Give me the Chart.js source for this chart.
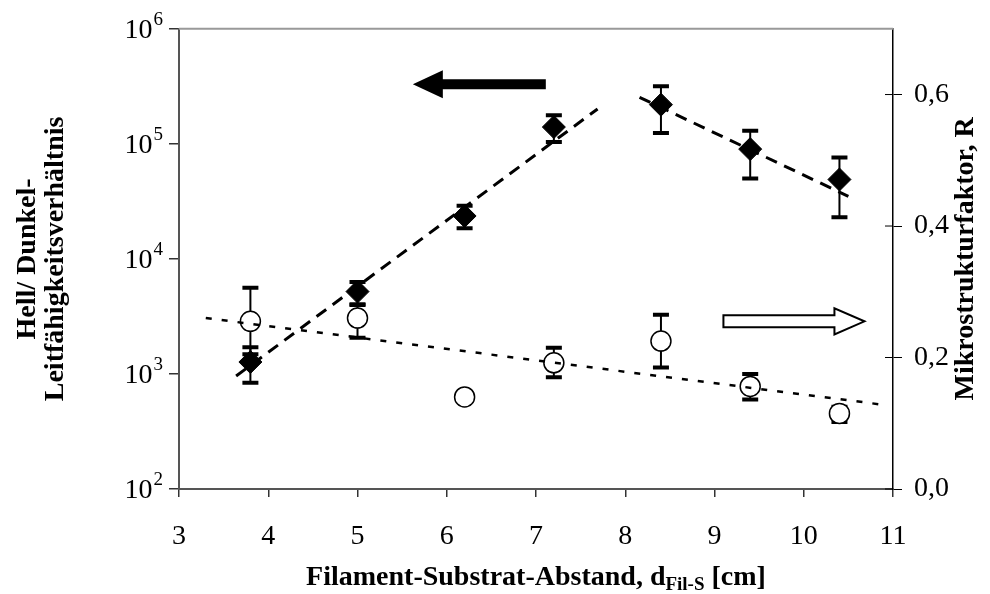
<!DOCTYPE html>
<html lang="de">
<head>
<meta charset="UTF-8">
<title>Hell/Dunkel-Leitfähigkeitsverhältnis</title>
<script src="https://cdn.jsdelivr.net/npm/chart.js"></script>
<style>
  body { margin: 0; background: #fff; }
  #wrap { width: 990px; height: 594px; }
</style>
</head>
<body>
<div id="wrap"><canvas id="chart" width="990" height="594"></canvas></div>
<script>
// Filament-Substrat-Abstand [cm], Hell/Dunkel-Verhältnis (linke Achse)
const distDiamond = [3.8, 5.0, 6.2, 7.2, 8.4, 9.4, 10.4];
const ratio     = [1270, 5200, 23600, 140000, 219000, 90000, 49000];
const ratioLow  = [840, 3970, 18500, 104000, 124000, 50000, 23000];
const ratioHigh = [1710, 6300, 29000, 177000, 316000, 130000, 76000];

// Mikrostrukturfaktor R (rechte Achse)
const distCircle = [3.8, 5.0, 6.2, 7.2, 8.4, 9.4, 10.4];
const rFactor = [0.255, 0.260, 0.140, 0.192, 0.225, 0.156, 0.115];
const rLow    = [0.205, 0.230, null, 0.170, 0.185, 0.136, 0.102];
const rHigh   = [0.306, 0.281, null, 0.215, 0.265, 0.175, 0.125];

// Trendlinien, Endpunkte aus der Abbildung
const fitRiseX = [3.64, 7.69];
const fitRiseY = [960, 201000];
const fitFallX = [8.16, 10.5];
const fitFallY = [254000, 35000];
const fitRX = [3.3, 10.84];
const fitRY = [0.260, 0.129];

// Achsen
const leftExp = [2, 3, 4, 5, 6];
const rightTicks = [0, 0.2, 0.4, 0.6];
const xTicks = [3, 4, 5, 6, 7, 8, 9, 10, 11];

// Pfeile (Datenkoordinaten): [xStart, xSpitze, y]
const arrowLeft = [7.11, 5.62, 330000];
const arrowRight = [9.1, 10.68, 0.255];

const serif = 'Liberation Serif, Times New Roman, serif';

function pts(xs, ys) {
  return xs.map((x, i) => ({ x: x, y: ys[i] }));
}

const errorBars = {
  id: 'errorBars',
  beforeDatasetsDraw(chart) {
    const ctx = chart.ctx;
    const xs = chart.scales.x;
    chart.data.datasets.forEach(ds => {
      if (!ds.errLow) return;
      const ys = chart.scales[ds.yAxisID];
      ds.data.forEach((p, j) => {
        if (ds.errLow[j] == null) return;
        const x = xs.getPixelForValue(p.x);
        const y1 = ys.getPixelForValue(ds.errLow[j]);
        const y2 = ys.getPixelForValue(ds.errHigh[j]);
        ctx.save();
        ctx.strokeStyle = '#000';
        ctx.lineWidth = 2;
        ctx.beginPath();
        ctx.moveTo(x, y1);
        ctx.lineTo(x, y2);
        ctx.stroke();
        ctx.lineWidth = 4;
        ctx.beginPath();
        ctx.moveTo(x - 8, y1); ctx.lineTo(x + 8, y1);
        ctx.moveTo(x - 8, y2); ctx.lineTo(x + 8, y2);
        ctx.stroke();
        ctx.restore();
      });
    });
  }
};

const extras = {
  id: 'extras',
  afterDraw(chart) {
    const ctx = chart.ctx;
    const a = chart.chartArea;
    const xs = chart.scales.x, yl = chart.scales.y, yr = chart.scales.y2;
    ctx.save();

    // obere Rahmenlinie
    ctx.strokeStyle = '#999';
    ctx.lineWidth = 2;
    ctx.beginPath();
    ctx.moveTo(a.left, a.top);
    ctx.lineTo(a.right, a.top);
    ctx.stroke();

    // rechte Ticks nach innen
    ctx.strokeStyle = '#000';
    ctx.lineWidth = 1;
    rightTicks.forEach(v => {
      const y = yr.getPixelForValue(v);
      ctx.beginPath();
      ctx.moveTo(a.right - 8, y);
      ctx.lineTo(a.right, y);
      ctx.stroke();
    });

    // linke Achsenbeschriftung 10^n
    ctx.fillStyle = '#000';
    ctx.textBaseline = 'middle';
    leftExp.forEach(e => {
      const y = yl.getPixelForValue(Math.pow(10, e));
      ctx.font = '19px ' + serif;
      const ew = ctx.measureText(String(e)).width;
      ctx.textAlign = 'left';
      ctx.fillText(String(e), 163 - ew, y - 9);
      ctx.font = '28px ' + serif;
      ctx.textAlign = 'right';
      ctx.fillText('10', 162 - ew, y + 2);
    });

    // rechter Achsentitel
    ctx.save();
    ctx.translate(966, (a.top + a.bottom) / 2);
    ctx.rotate(-Math.PI / 2);
    ctx.textAlign = 'center';
    ctx.font = 'bold 28px ' + serif;
    ctx.fillText('Mikrostrukturfaktor, R', 0, 0);
    ctx.restore();

    // x-Achsentitel mit Index
    const t1 = 'Filament-Substrat-Abstand, d', t2 = 'Fil-S', t3 = ' [cm]';
    ctx.textAlign = 'left';
    ctx.textBaseline = 'alphabetic';
    ctx.font = 'bold 28px ' + serif;
    const w1 = ctx.measureText(t1).width, w3 = ctx.measureText(t3).width;
    ctx.font = 'bold 19px ' + serif;
    const w2 = ctx.measureText(t2).width;
    let x0 = (a.left + a.right) / 2 - (w1 + w2 + w3) / 2;
    const yb = 585;
    ctx.font = 'bold 28px ' + serif;
    ctx.fillText(t1, x0, yb);
    ctx.font = 'bold 19px ' + serif;
    ctx.fillText(t2, x0 + w1, yb + 5);
    ctx.font = 'bold 28px ' + serif;
    ctx.fillText(t3, x0 + w1 + w2, yb);

    // Pfeile
    function arrow(xa, xb, y, fill) {
      const dir = xb > xa ? 1 : -1;
      const head = 30, hh = fill ? 14 : 13, sh = fill ? 5 : 6;
      const xh = xb - dir * head;
      ctx.beginPath();
      ctx.moveTo(xa, y - sh);
      ctx.lineTo(xh, y - sh);
      ctx.lineTo(xh, y - hh);
      ctx.lineTo(xb, y);
      ctx.lineTo(xh, y + hh);
      ctx.lineTo(xh, y + sh);
      ctx.lineTo(xa, y + sh);
      ctx.closePath();
      if (fill) {
        ctx.fillStyle = '#000';
        ctx.fill();
      } else {
        ctx.fillStyle = '#fff';
        ctx.fill();
        ctx.strokeStyle = '#000';
        ctx.lineWidth = 2;
        ctx.stroke();
      }
    }
    arrow(xs.getPixelForValue(arrowLeft[0]), xs.getPixelForValue(arrowLeft[1]),
          yl.getPixelForValue(arrowLeft[2]), true);
    arrow(xs.getPixelForValue(arrowRight[0]), xs.getPixelForValue(arrowRight[1]),
          yr.getPixelForValue(arrowRight[2]), false);

    ctx.restore();
  }
};

new Chart(document.getElementById('chart'), {
  type: 'scatter',
  data: {
    datasets: [
      {
        label: 'Hell/Dunkel',
        data: pts(distDiamond, ratio),
        errLow: ratioLow,
        errHigh: ratioHigh,
        yAxisID: 'y',
        pointStyle: 'rectRot',
        pointRadius: 11.5,
        backgroundColor: '#000',
        borderColor: '#000',
        borderWidth: 1,
        order: 2
      },
      {
        label: 'R',
        data: pts(distCircle, rFactor),
        errLow: rLow,
        errHigh: rHigh,
        yAxisID: 'y2',
        pointStyle: 'circle',
        pointRadius: 10,
        backgroundColor: '#fff',
        borderColor: '#000',
        borderWidth: 1.5,
        order: 3
      },
      {
        data: pts(fitRiseX, fitRiseY),
        yAxisID: 'y',
        showLine: true,
        pointRadius: 0,
        borderColor: '#000',
        borderWidth: 3,
        borderDash: [12, 8],
        order: 1
      },
      {
        data: pts(fitFallX, fitFallY),
        yAxisID: 'y',
        showLine: true,
        pointRadius: 0,
        borderColor: '#000',
        borderWidth: 3,
        borderDash: [12, 8],
        order: 1
      },
      {
        data: pts(fitRX, fitRY),
        yAxisID: 'y2',
        showLine: true,
        pointRadius: 0,
        borderColor: '#000',
        borderWidth: 2.5,
        borderDash: [6, 10],
        order: 1
      }
    ]
  },
  options: {
    responsive: false,
    animation: false,
    events: [],
    layout: { padding: { top: 24 } },
    plugins: {
      legend: { display: false },
      tooltip: { enabled: false }
    },
    scales: {
      x: {
        type: 'linear',
        min: 3,
        max: 11,
        afterBuildTicks: s => { s.ticks = xTicks.map(v => ({ value: v })); },
        grid: { drawOnChartArea: false, tickLength: 8, color: '#333', lineWidth: 1.5 },
        border: { color: '#555', width: 2 },
        ticks: { font: { family: serif, size: 28 }, color: '#000', padding: 23 },
        afterFit: s => { s.height = 105; }
      },
      y: {
        type: 'logarithmic',
        position: 'left',
        min: 100,
        max: 1000000,
        afterBuildTicks: s => { s.ticks = leftExp.map(e => ({ value: Math.pow(10, e) })); },
        ticks: { display: false },
        grid: { drawOnChartArea: false, tickLength: 10, color: '#333', lineWidth: 1.5 },
        border: { color: '#555', width: 2 },
        title: {
          display: true,
          text: ['Hell/ Dunkel-', 'Leitfähigkeitsverhältnis'],
          font: { family: serif, size: 28, weight: 'bold', lineHeight: 1.0 },
          color: '#000',
          padding: { top: 14, bottom: 0 }
        },
        afterFit: s => { s.width = 179; }
      },
      y2: {
        type: 'linear',
        position: 'right',
        min: 0,
        max: 0.7,
        afterBuildTicks: s => { s.ticks = rightTicks.map(v => ({ value: v })); },
        ticks: {
          font: { family: serif, size: 28 },
          color: '#000',
          padding: 12,
          callback: v => v.toFixed(1).replace('.', ',')
        },
        grid: { drawOnChartArea: false, tickLength: 9, color: '#000', lineWidth: 1 },
        border: { color: '#000', width: 1.5 },
        afterFit: s => { s.width = 97; }
      }
    }
  },
  plugins: [errorBars, extras]
});
</script>
</body>
</html>
